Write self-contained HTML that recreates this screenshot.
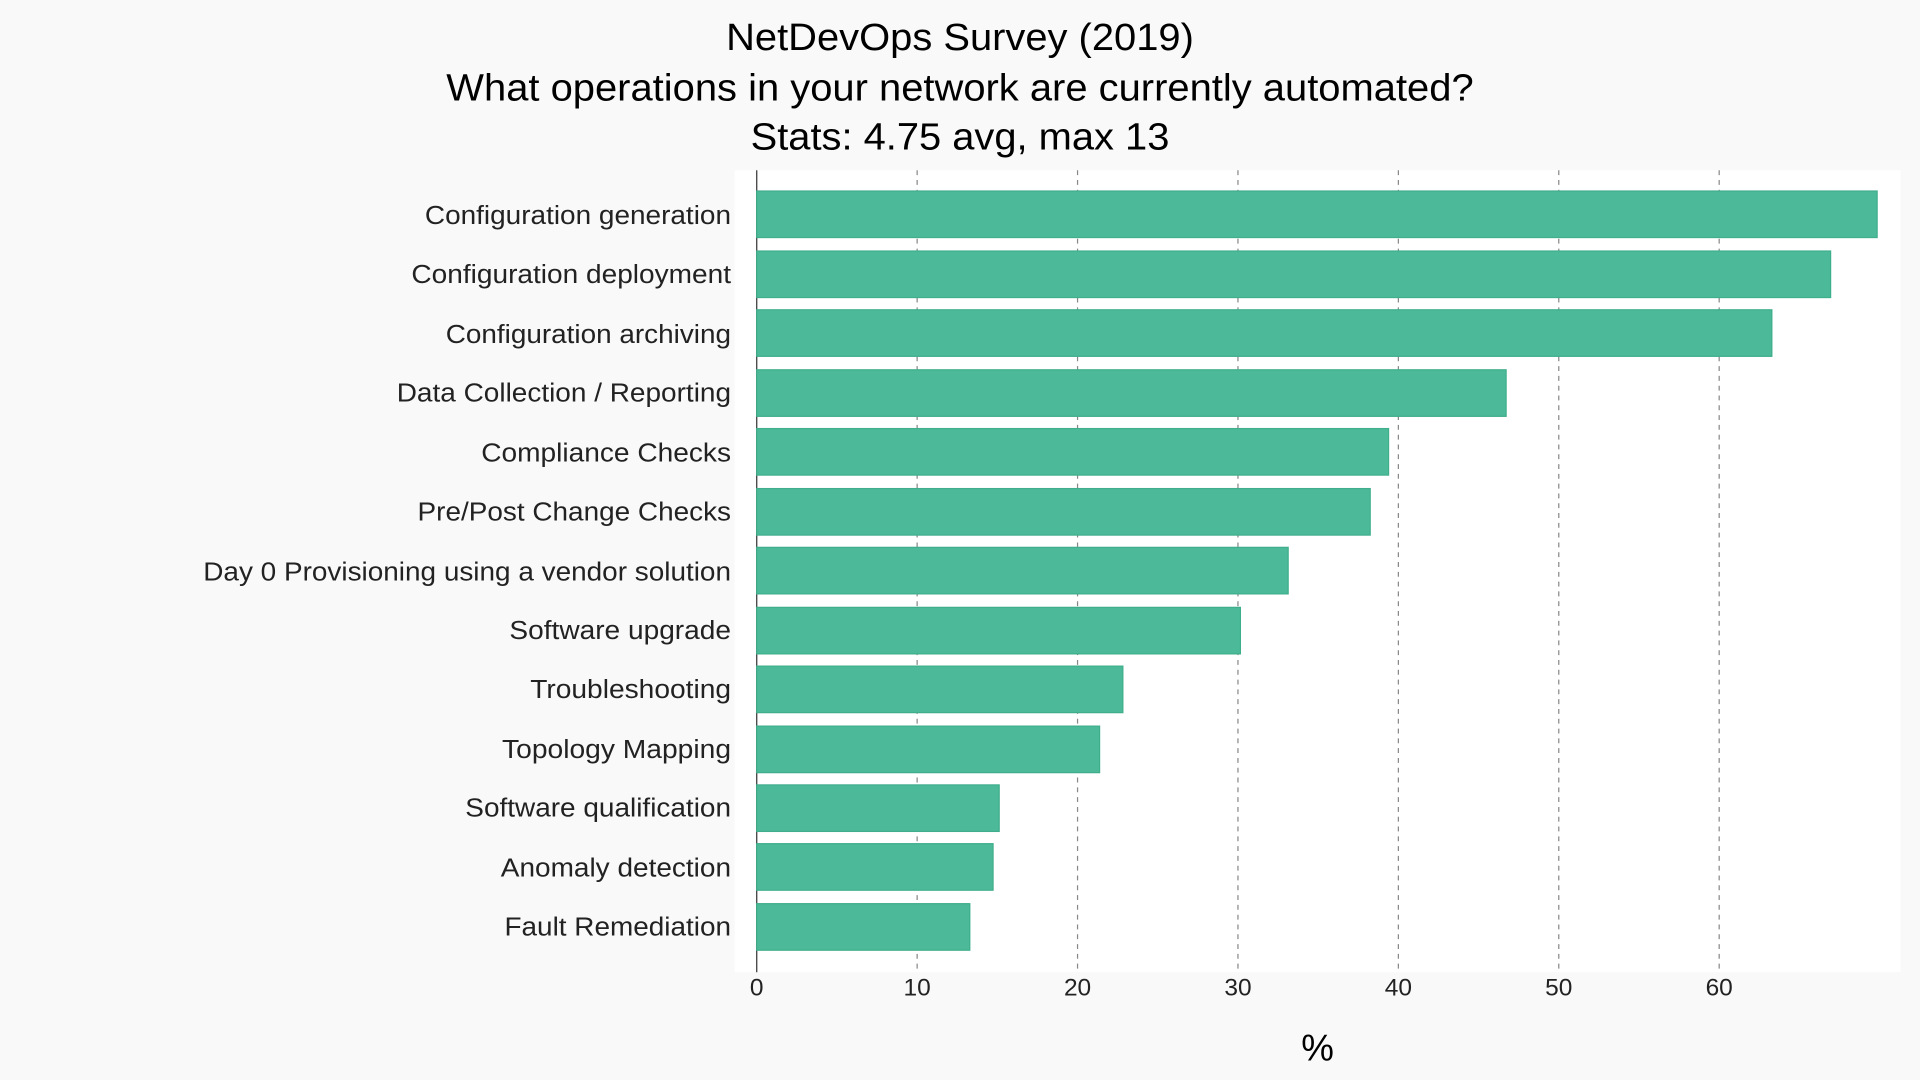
<!DOCTYPE html>
<html><head><style>html,body{margin:0;padding:0;background:#f9f9f9;}svg{display:block;}</style></head>
<body>
<svg width="1920" height="1080" viewBox="0 0 1568 882" xmlns="http://www.w3.org/2000/svg" font-family="Liberation Sans, Arial, sans-serif">
<rect width="1568" height="882" fill="#f9f9f9"/>
<rect x="600" y="139" width="952" height="655" fill="#ffffff"/>
<g fill="#000" font-size="31" text-anchor="middle" lengthAdjust="spacingAndGlyphs">
<text x="784" y="41" textLength="382" lengthAdjust="spacingAndGlyphs">NetDevOps Survey (2019)</text>
<text x="784" y="82" textLength="839" lengthAdjust="spacingAndGlyphs">What operations in your network are currently automated?</text>
<text x="784" y="122" textLength="342" lengthAdjust="spacingAndGlyphs">Stats: 4.75 avg, max 13</text>
</g>
<g stroke="#888" stroke-width="1" stroke-dasharray="4,4">
<line x1="749" y1="139" x2="749" y2="794"/>
<line x1="880" y1="139" x2="880" y2="794"/>
<line x1="1011" y1="139" x2="1011" y2="794"/>
<line x1="1142" y1="139" x2="1142" y2="794"/>
<line x1="1273" y1="139" x2="1273" y2="794"/>
<line x1="1404" y1="139" x2="1404" y2="794"/>
</g>
<line x1="618" y1="139" x2="618" y2="794" stroke="#333" stroke-width="1"/>
<g fill="#4cba98" stroke="#3fae8b" stroke-width="1">
<rect x="618" y="156" width="915" height="38"/>
<rect x="618" y="205" width="877" height="38"/>
<rect x="618" y="253" width="829" height="38"/>
<rect x="618" y="302" width="612" height="38"/>
<rect x="618" y="350" width="516" height="38"/>
<rect x="618" y="399" width="501" height="38"/>
<rect x="618" y="447" width="434" height="38"/>
<rect x="618" y="496" width="395" height="38"/>
<rect x="618" y="544" width="299" height="38"/>
<rect x="618" y="593" width="280" height="38"/>
<rect x="618" y="641" width="198" height="38"/>
<rect x="618" y="689" width="193" height="38"/>
<rect x="618" y="738" width="174" height="38"/>
</g>
<g fill="#222" font-size="21" text-anchor="end">
<text x="597" y="183" textLength="250" lengthAdjust="spacingAndGlyphs">Configuration generation</text>
<text x="597" y="231" textLength="261" lengthAdjust="spacingAndGlyphs">Configuration deployment</text>
<text x="597" y="280" textLength="233" lengthAdjust="spacingAndGlyphs">Configuration archiving</text>
<text x="597" y="328" textLength="273" lengthAdjust="spacingAndGlyphs">Data Collection / Reporting</text>
<text x="597" y="377" textLength="204" lengthAdjust="spacingAndGlyphs">Compliance Checks</text>
<text x="597" y="425" textLength="256" lengthAdjust="spacingAndGlyphs">Pre/Post Change Checks</text>
<text x="597" y="474" textLength="431" lengthAdjust="spacingAndGlyphs">Day 0 Provisioning using a vendor solution</text>
<text x="597" y="522" textLength="181" lengthAdjust="spacingAndGlyphs">Software upgrade</text>
<text x="597" y="570" textLength="164" lengthAdjust="spacingAndGlyphs">Troubleshooting</text>
<text x="597" y="619" textLength="187" lengthAdjust="spacingAndGlyphs">Topology Mapping</text>
<text x="597" y="667" textLength="217" lengthAdjust="spacingAndGlyphs">Software qualification</text>
<text x="597" y="716" textLength="188" lengthAdjust="spacingAndGlyphs">Anomaly detection</text>
<text x="597" y="764" textLength="185" lengthAdjust="spacingAndGlyphs">Fault Remediation</text>
</g>
<g fill="#222" font-size="20" text-anchor="middle">
<text x="618" y="813">0</text>
<text x="749" y="813">10</text>
<text x="880" y="813">20</text>
<text x="1011" y="813">30</text>
<text x="1142" y="813">40</text>
<text x="1273" y="813">50</text>
<text x="1404" y="813">60</text>
</g>
<text x="1076" y="866" font-size="30" text-anchor="middle" fill="#000">%</text>
</svg>
</body></html>
